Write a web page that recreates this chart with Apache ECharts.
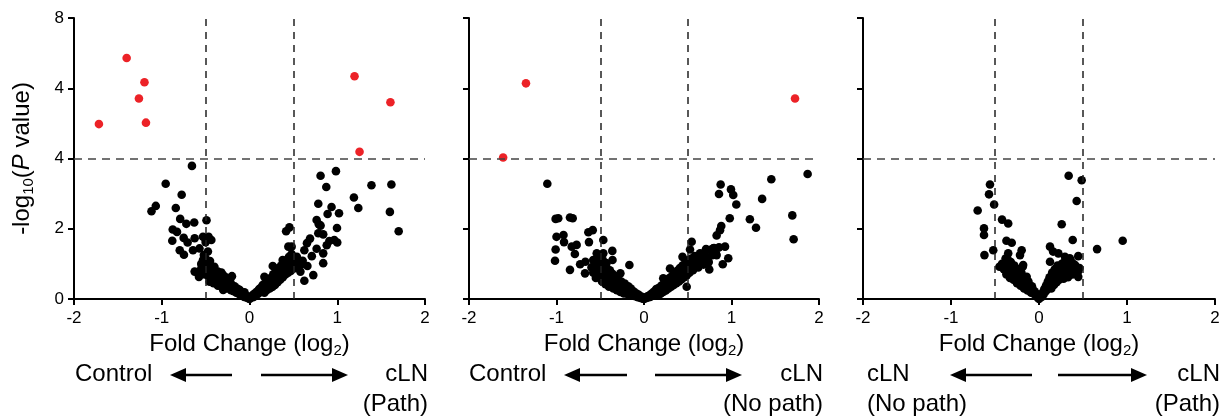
<!DOCTYPE html>
<html><head><meta charset="utf-8">
<script src="https://cdn.jsdelivr.net/npm/echarts@6/dist/echarts.min.js"></script>
<style>html,body{margin:0;padding:0;background:#fff}#c{width:1223px;height:417px}</style>
</head><body><div id="c"></div>
<script>
// ---------- DATA ----------
const yTickLabels = ['0', '2', '4', '4', '8'];      // labels shown at 0,2,4,6,8
const foldThresholds = [-0.5, 0.5];
const pThreshold = 4;
const xAxisTitle = 'Fold Change (log{sub|2})';
const yAxisTitle = '-log{sub|10}({it|P} value)';
const leftGroupLabels = [['Control'], ['Control'], ['cLN', '(No path)']];
const rightGroupLabels = [['cLN', '(Path)'], ['cLN', '(No path)'], ['cLN', '(Path)']];

// Panel 1: Control vs cLN (Path)
const p1Red = [[-1.716,4.98],[-1.40,6.86],[-1.197,6.17],[-1.26,5.71],[-1.18,5.02],[1.197,6.34],[1.606,5.60],[1.254,4.19]];
const p1BlackLeft = [[-0.656,3.79],[-0.955,3.28],[-0.773,2.97],[-1.068,2.65],[-1.117,2.50],[-0.84,2.59],[-0.79,2.28],[-0.72,2.14],[-0.63,2.18],[-0.49,2.24],[-0.875,1.98],[-0.826,1.91],[-0.88,1.66],[-0.75,1.74],[-0.705,1.61],[-0.625,1.73],[-0.795,1.39],[-0.747,1.26],[-0.644,1.39],[-0.53,1.77],[-0.466,1.77],[-0.5,1.62],[-0.435,1.68],[-0.57,1.44],[-0.474,1.35],[-0.53,1.11],[-0.474,0.97],[-0.55,0.87],[-0.625,0.78],[-0.576,0.63],[-0.417,0.87],[-0.36,0.78],[-0.30,0.68],[-0.20,0.65],[-0.455,0.49],[-0.38,0.45],[-0.265,0.45],[-0.30,0.26],[-0.19,0.35],[-0.114,0.26],[-0.057,0.19],
  [-0.55,1.0],[-0.53,0.9],[-0.52,1.25],[-0.51,0.7],[-0.56,0.75],
  [-0.50,1.15],[-0.49,1.02],[-0.48,0.88],[-0.47,0.75],[-0.46,0.62],[-0.45,1.08],[-0.44,0.55],[-0.43,0.8],[-0.42,0.68],[-0.41,0.45],[-0.40,0.92],[-0.39,0.6],[-0.38,0.72],[-0.37,0.5],[-0.36,0.38],[-0.35,0.66],[-0.34,0.55],[-0.33,0.44],[-0.32,0.75],[-0.31,0.32],[-0.30,0.58],[-0.29,0.48],[-0.28,0.4],[-0.27,0.62],[-0.26,0.3],[-0.25,0.52],[-0.24,0.42],[-0.23,0.34],[-0.22,0.5],[-0.21,0.25],[-0.20,0.4],[-0.19,0.32],[-0.18,0.22],[-0.17,0.36],[-0.16,0.28],[-0.15,0.18],[-0.14,0.3],[-0.13,0.22],[-0.12,0.14],[-0.11,0.24],[-0.10,0.16],[-0.09,0.1],[-0.08,0.18],[-0.07,0.12],[-0.06,0.06],[-0.05,0.1],[-0.04,0.05],[-0.03,0.08],[-0.02,0.03],[-0.01,0.02],[0,0]];
const p1BlackRight = [[0.81,3.51],[0.985,3.64],[0.875,3.19],[1.39,3.24],[1.617,3.26],[1.19,2.89],[1.24,2.59],[1.60,2.48],[1.70,1.93],[0.784,2.71],[0.935,2.62],[0.89,2.42],[1.02,2.44],[0.765,2.25],[0.79,2.13],[0.81,2.09],[0.997,2.02],[0.784,1.87],[0.84,1.84],[0.69,1.72],[0.91,1.65],[0.966,1.68],[1.0,1.61],[0.88,1.53],[0.655,1.59],[0.625,1.39],[0.765,1.43],[0.84,1.30],[0.71,1.22],[0.84,1.02],[0.417,1.93],[0.455,2.04],[0.443,1.49],[0.48,1.49],[0.54,1.20],[0.606,1.09],[0.66,0.94],[0.727,0.68],[0.625,0.52],[0.378,1.11],[0.417,0.97],[0.265,0.94],[0.17,0.63],
  [0.01,0.03],[0.02,0.06],[0.03,0.1],[0.04,0.05],[0.05,0.14],[0.06,0.08],[0.07,0.18],[0.08,0.12],[0.09,0.22],[0.1,0.15],[0.11,0.28],[0.12,0.2],[0.13,0.32],[0.14,0.24],[0.15,0.4],[0.16,0.3],[0.17,0.18],[0.18,0.45],[0.19,0.35],[0.2,0.26],[0.21,0.52],[0.22,0.4],[0.23,0.3],[0.24,0.6],[0.25,0.46],[0.26,0.34],[0.27,0.7],[0.28,0.55],[0.29,0.4],[0.3,0.78],[0.31,0.62],[0.32,0.48],[0.33,0.88],[0.34,0.7],[0.35,0.55],[0.36,0.95],[0.37,0.8],[0.38,0.62],[0.39,1.05],[0.4,0.85],[0.41,0.7],[0.42,1.1],[0.43,0.92],[0.44,0.75],[0.45,1.2],[0.46,0.98],[0.47,0.8],[0.48,1.28],[0.5,1.05],[0.52,0.88],[0.54,1.12],[0.56,0.95],[0.58,0.78],[0.6,1.0]];

// Panel 2: Control vs cLN (No path)
const p2Red = [[-1.349,6.14],[-1.61,4.03],[1.726,5.71]];
const p2BlackLeft = [[-1.105,3.28],[-1.01,2.28],[-0.98,2.30],[-0.846,2.32],[-0.815,2.30],[-1.0,1.77],[-0.92,1.82],[-0.914,1.62],[-1.01,1.41],[-1.017,1.09],[-0.826,1.49],[-0.77,1.54],[-0.79,1.28],[-0.846,0.83],[-0.636,1.90],[-0.586,1.96],[-0.629,1.62],[-0.465,1.68],[-0.362,1.37],[-0.465,1.30],[-0.54,1.30],[-0.73,0.99],[-0.67,1.06],[-0.58,1.11],[-0.674,0.73],[-0.58,0.92],[-0.54,0.83],[-0.43,1.02],[-0.36,1.11],[-0.167,0.97],[-0.27,0.73],
  [-0.6,0.9],[-0.58,0.75],[-0.56,1.05],[-0.55,0.6],[-0.53,0.85],[-0.52,1.2],[-0.5,0.7],[-0.49,0.95],[-0.48,0.5],[-0.47,1.1],[-0.46,0.8],[-0.45,0.62],[-0.44,0.42],[-0.43,0.9],[-0.42,0.7],[-0.41,0.55],[-0.4,0.35],[-0.39,0.82],[-0.38,0.62],[-0.37,0.46],[-0.36,0.72],[-0.35,0.3],[-0.34,0.55],[-0.33,0.65],[-0.32,0.42],[-0.31,0.25],[-0.3,0.58],[-0.29,0.48],[-0.28,0.36],[-0.27,0.2],[-0.26,0.5],[-0.25,0.4],[-0.24,0.3],[-0.23,0.16],[-0.22,0.44],[-0.21,0.34],[-0.2,0.24],[-0.19,0.14],[-0.18,0.36],[-0.17,0.26],[-0.16,0.12],[-0.15,0.3],[-0.14,0.2],[-0.13,0.1],[-0.12,0.22],[-0.11,0.14],[-0.1,0.08],[-0.09,0.16],[-0.08,0.1],[-0.07,0.05],[-0.06,0.12],[-0.05,0.06],[-0.04,0.03],[-0.03,0.07],[-0.02,0.02],[-0.01,0.01],[0,0]];
const p2BlackRight = [[1.87,3.56],[1.455,3.41],[0.876,3.26],[0.857,2.99],[0.994,3.12],[1.02,2.96],[1.055,2.69],[1.35,2.85],[1.695,2.38],[1.71,1.70],[1.21,2.27],[1.28,2.03],[0.98,2.30],[0.883,2.08],[0.869,1.96],[0.83,1.81],[0.926,1.49],[0.857,1.47],[0.79,1.44],[0.709,1.42],[0.83,1.25],[0.963,1.16],[0.9,0.99],[0.746,0.84],[0.545,1.63],[0.526,1.41],[0.44,1.20],[0.64,1.25],[0.60,1.11],[0.66,1.02],[0.297,0.87],[0.22,0.59],[0.488,0.35],
  [0.01,0.02],[0.02,0.05],[0.03,0.03],[0.04,0.08],[0.05,0.05],[0.06,0.1],[0.07,0.06],[0.08,0.14],[0.09,0.09],[0.1,0.18],[0.11,0.12],[0.12,0.22],[0.13,0.15],[0.14,0.28],[0.15,0.2],[0.16,0.1],[0.17,0.32],[0.18,0.24],[0.19,0.15],[0.2,0.38],[0.21,0.28],[0.22,0.2],[0.23,0.45],[0.24,0.34],[0.25,0.24],[0.26,0.52],[0.27,0.4],[0.28,0.3],[0.29,0.6],[0.3,0.46],[0.31,0.35],[0.32,0.66],[0.33,0.52],[0.34,0.4],[0.35,0.74],[0.36,0.58],[0.37,0.45],[0.38,0.8],[0.39,0.65],[0.4,0.5],[0.41,0.88],[0.42,0.72],[0.43,0.56],[0.44,0.95],[0.45,0.78],[0.46,0.62],[0.47,1.02],[0.48,0.85],[0.49,0.68],[0.5,1.1],[0.51,0.92],[0.52,0.75],[0.54,1.15],[0.55,0.98],[0.56,0.82],[0.58,1.22],[0.6,1.05],[0.62,0.9],[0.64,1.3],[0.66,1.12],[0.68,0.98],[0.7,1.35],[0.72,1.18],[0.74,1.05],[0.76,1.4],[0.78,1.25],[0.8,1.45],[0.82,1.32]];

// Panel 3: cLN (No path) vs cLN (Path)
const p3Red = [];
const p3BlackLeft = [[-0.557,3.26],[-0.568,2.98],[-0.51,2.69],[-0.697,2.52],[-0.625,2.01],[-0.625,1.82],[-0.62,1.25],[-0.52,1.39],[-0.42,2.26],[-0.35,2.15],[-0.37,1.66],[-0.31,1.60],[-0.45,0.92],[-0.197,1.39],[-0.216,1.25],[-0.185,0.92],[-0.35,1.11],[-0.37,0.78],[-0.14,0.63],[-0.18,0.97],
  [-0.42,1.0],[-0.4,0.85],[-0.38,1.15],[-0.37,0.7],[-0.36,0.95],[-0.35,1.3],[-0.34,0.8],[-0.33,0.6],[-0.32,1.05],[-0.31,0.9],[-0.3,0.72],[-0.29,0.55],[-0.28,0.95],[-0.27,0.8],[-0.26,0.62],[-0.25,0.45],[-0.24,0.85],[-0.23,0.7],[-0.22,0.52],[-0.21,0.38],[-0.2,0.75],[-0.19,0.6],[-0.18,0.45],[-0.17,0.3],[-0.16,0.62],[-0.15,0.5],[-0.14,0.36],[-0.13,0.24],[-0.12,0.5],[-0.11,0.38],[-0.1,0.28],[-0.09,0.18],[-0.08,0.36],[-0.07,0.26],[-0.06,0.15],[-0.05,0.22],[-0.04,0.12],[-0.03,0.15],[-0.02,0.06],[-0.01,0.03],[0,0]];
const p3BlackRight = [[0.337,3.51],[0.485,3.38],[0.428,2.79],[0.258,2.13],[0.383,1.68],[0.951,1.66],[0.66,1.42],[0.125,1.49],[0.16,1.35],[0.22,1.30],[0.295,1.20],[0.35,1.16],[0.446,1.22],[0.276,1.02],[0.41,0.97],[0.125,1.06],[0.446,0.63],
  [0.01,0.04],[0.02,0.1],[0.03,0.06],[0.04,0.18],[0.05,0.12],[0.06,0.28],[0.07,0.2],[0.08,0.38],[0.09,0.26],[0.1,0.5],[0.11,0.34],[0.12,0.62],[0.13,0.44],[0.14,0.3],[0.15,0.75],[0.16,0.55],[0.17,0.4],[0.18,0.85],[0.19,0.65],[0.2,0.48],[0.21,0.95],[0.22,0.72],[0.23,0.55],[0.24,0.88],[0.25,0.62],[0.26,1.0],[0.27,0.78],[0.28,0.58],[0.29,0.9],[0.3,0.7],[0.31,1.05],[0.32,0.82],[0.33,0.62],[0.34,0.95],[0.35,0.75],[0.36,1.1],[0.37,0.88],[0.38,0.7],[0.39,1.0],[0.4,0.82],[0.42,0.92],[0.44,0.76],[0.46,0.88]];

// ---------- CHART ----------
const FONT = '"Liberation Sans", Arial, Helvetica, sans-serif';
const panels = [
  {red: p1Red, black: p1BlackLeft.concat(p1BlackRight), grid: {left: 74, width: 351}},
  {red: p2Red, black: p2BlackLeft.concat(p2BlackRight), grid: {left: 469, width: 350}},
  {red: p3Red, black: p3BlackLeft.concat(p3BlackRight), grid: {left: 863, width: 352}}
];
const titleRich = {
  sub: {fontSize: 15, padding: [12, 0, 0, 0], fontFamily: FONT, color: '#000'},
  it: {fontStyle: 'italic', fontSize: 24, fontFamily: FONT, color: '#000'}
};
const grids = [], xAxes = [], yAxes = [], series = [];
panels.forEach((p, i) => {
  grids.push({left: p.grid.left, width: p.grid.width, top: 18, height: 281});
  xAxes.push({
    gridIndex: i, type: 'value', min: -2, max: 2, interval: 1,
    axisLine: {onZero: false, lineStyle: {color: '#000', width: 2}},
    axisTick: {length: 6, lineStyle: {color: '#000', width: 2}},
    axisLabel: {color: '#000', fontSize: 17, fontFamily: FONT, margin: 11},
    splitLine: {show: false},
    name: xAxisTitle, nameLocation: 'middle', nameGap: 32,
    nameTextStyle: {fontSize: 24, color: '#000', fontFamily: FONT, rich: titleRich}
  });
  yAxes.push({
    gridIndex: i, type: 'value', min: 0, max: 8, interval: 2,
    axisLine: {show: true, onZero: false, lineStyle: {color: '#000', width: 2}},
    axisTick: {show: true, length: 6, lineStyle: {color: '#000', width: 2}},
    axisLabel: {show: i === 0, color: '#000', fontSize: 17, fontFamily: FONT, margin: 10,
      formatter: v => yTickLabels[Math.round(v / 2)]},
    splitLine: {show: false},
    name: i === 0 ? yAxisTitle : '', nameLocation: 'middle', nameGap: 38,
    nameTextStyle: {fontSize: 24, color: '#000', fontFamily: FONT, rich: titleRich}
  });
  series.push({
    type: 'scatter', xAxisIndex: i, yAxisIndex: i, data: [], z: 1, silent: true,
    markLine: {
      silent: true, symbol: ['none', 'none'], label: {show: false}, animation: false,
      data: foldThresholds.map(t => ({xAxis: t, lineStyle: {type: [7, 6], color: '#222', width: 1.5}}))
        .concat([{yAxis: pThreshold, lineStyle: {type: [8, 6], color: '#444', width: 1.5}}])
    }
  });
  series.push({
    type: 'scatter', xAxisIndex: i, yAxisIndex: i, data: p.black, symbolSize: 8.6, clip: false, z: 3,
    itemStyle: {color: '#000', opacity: 1}
  });
  series.push({
    type: 'scatter', xAxisIndex: i, yAxisIndex: i, data: p.red, symbolSize: 8.6, clip: false, z: 4,
    itemStyle: {color: '#ec2227', opacity: 1}
  });
});

// annotation graphics (group labels & arrows)
function txt(s, x, y, align) {
  return {type: 'text', x: x, y: y, silent: true, style: {text: s, fill: '#000', fontSize: 24, fontFamily: FONT,
    align: align, verticalAlign: 'middle', textAlign: align, textVerticalAlign: 'middle'}};
}
function arrow(tail, tip, y) {
  const d = tip < tail ? 1 : -1;
  return [
    {type: 'line', silent: true, shape: {x1: tail, y1: y, x2: tip + d * 12, y2: y}, style: {stroke: '#000', lineWidth: 2.5}},
    {type: 'polygon', silent: true, shape: {points: [[tip, y], [tip + d * 16, y - 7], [tip + d * 16, y + 7]]}, style: {fill: '#000'}}
  ];
}
const annLayout = [
  {lx: 75, rx: 428, a1: [232, 170], a2: [261, 348]},
  {lx: 469, rx: 823, a1: [627, 564], a2: [655, 742]},
  {lx: 867, rx: 1220, a1: [1032, 950], a2: [1058, 1147]}
];
const graphics = [];
annLayout.forEach((a, i) => {
  leftGroupLabels[i].forEach((s, k) => graphics.push(txt(s, a.lx, 374 + k * 30, 'left')));
  rightGroupLabels[i].forEach((s, k) => graphics.push(txt(s, a.rx, 374 + k * 30, 'right')));
  graphics.push(...arrow(a.a1[0], a.a1[1], 375));
  graphics.push(...arrow(a.a2[0], a.a2[1], 375));
});

const chart = echarts.init(document.getElementById('c'), null, {renderer: 'canvas'});
chart.setOption({
  animation: false,
  backgroundColor: '#fff',
  textStyle: {fontFamily: FONT},
  grid: grids, xAxis: xAxes, yAxis: yAxes, series: series,
  graphic: graphics
});
</script>
</body></html>
